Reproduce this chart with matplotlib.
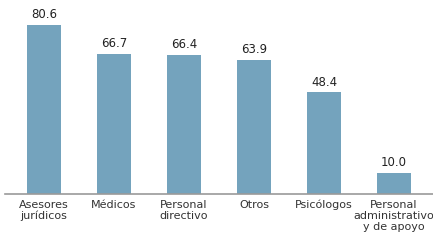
import matplotlib.pyplot as plt

categories = ["Asesores\njurídicos", "Médicos", "Personal\ndirectivo", "Otros",
              "Psicólogos", "Personal\nadministrativo\ny de apoyo"]
values = [80.6, 66.7, 66.4, 63.9, 48.4, 10.0]

plt.rcParams["font.family"] = ["DejaVu Sans"]

fig = plt.figure(figsize=(4.33, 2.40), dpi=100)
ax = fig.add_axes([5 / 433, 46 / 240, 428 / 433, 194 / 240])

x = list(range(len(values)))
bars = ax.bar(x, values, width=0.49, color="#74a3bd")

for xi, v in zip(x, values):
    ax.text(xi, v + 1.8, f"{v:.1f}", ha="center", va="bottom",
            fontsize=8.5, color="#222222")

ax.set_xlim(-0.557, 5.557)
ax.set_ylim(0, 92.5)
ax.set_xticks(x)
ax.set_xticklabels(categories, fontsize=8, color="#333333", linespacing=1.15)
ax.tick_params(axis="x", length=0, pad=4)
ax.set_yticks([])

for s in ["top", "right", "left"]:
    ax.spines[s].set_visible(False)
ax.spines["bottom"].set_color("#9a9a9a")
ax.spines["bottom"].set_linewidth(1.2)

fig.savefig("out.png", dpi=100)
